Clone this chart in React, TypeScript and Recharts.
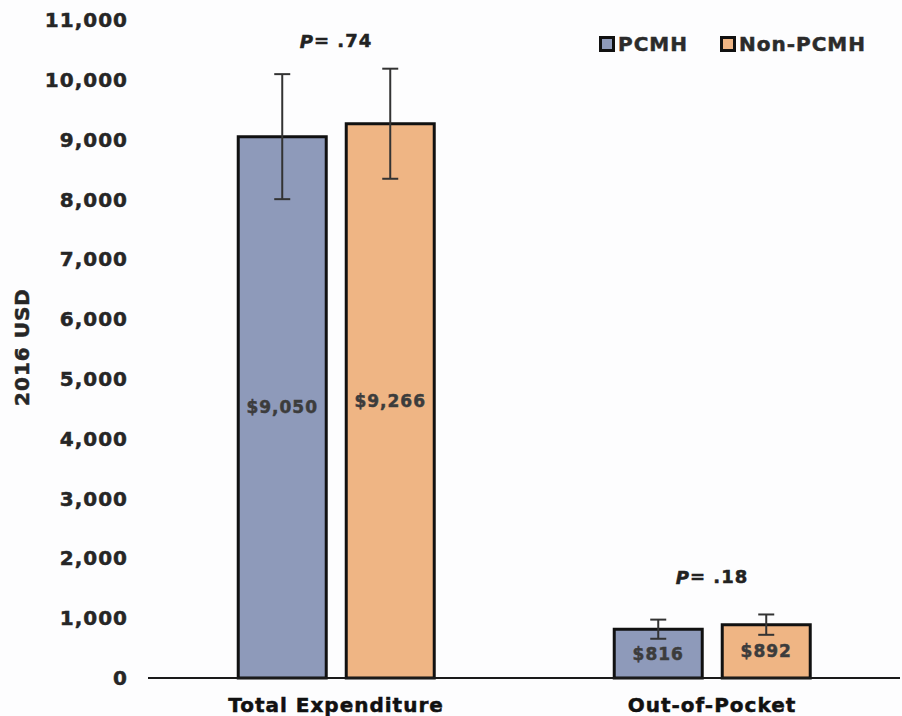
import React from "react";
import {
  BarChart,
  Bar,
  XAxis,
  YAxis,
  ErrorBar,
  LabelList,
  ReferenceDot,
} from "recharts";

const categories = ["Total Expenditure", "Out-of-Pocket"];
const pcmhValues = [9050, 816];
const nonPcmhValues = [9266, 892];
const pcmhErrors = [1045, 160];
const nonPcmhErrors = [920, 170];
const pValues = [".74", ".18"];
const pLabelY = [10650, 1690];
const yTicks = [0, 1000, 2000, 3000, 4000, 5000, 6000, 7000, 8000, 9000, 10000, 11000];

const PCMH_COLOR = "#8e9aba";
const NON_COLOR = "#efb584";
const FONT = "'DejaVu Sans', Verdana, sans-serif";

const data = categories.map((name, i) => ({
  name,
  pcmh: pcmhValues[i],
  nonPcmh: nonPcmhValues[i],
  pcmhErr: pcmhErrors[i],
  nonPcmhErr: nonPcmhErrors[i],
}));

const money = (v: any) => "$" + Number(v).toLocaleString("en-US");

const legendItems = [
  { label: "PCMH", color: PCMH_COLOR },
  { label: "Non-PCMH", color: NON_COLOR },
];

// heavier text, closer to the bold look of the original
const heavy = (fill: string) => ({ stroke: fill, strokeWidth: 0.5 });

function ChartLegend() {
  return (
    <div
      style={{
        position: "absolute",
        top: 32,
        right: 36,
        display: "flex",
        gap: 32,
        fontFamily: FONT,
      }}
    >
      {legendItems.map((it) => (
        <div key={it.label} style={{ display: "flex", alignItems: "center", gap: 3 }}>
          <span
            style={{
              display: "inline-block",
              width: 10,
              height: 10,
              background: it.color,
              border: "3px solid #111",
            }}
          />
          <span
            style={{
              fontSize: 20,
              fontWeight: 700,
              color: "#2b2b2b",
              letterSpacing: 1,
              WebkitTextStroke: "0.5px #2b2b2b",
            }}
          >
            {it.label}
          </span>
        </div>
      ))}
    </div>
  );
}

const PLabel = (props: any) => {
  const { viewBox, value } = props;
  const cx = viewBox.x + (viewBox.width || 0) / 2;
  const cy = viewBox.y + (viewBox.height || 0) / 2;
  return (
    <text
      x={cx}
      y={cy}
      textAnchor="middle"
      dominantBaseline="central"
      fontFamily={FONT}
      fontWeight={700}
      fontSize={18}
      letterSpacing={1}
      fill="#222"
      stroke="#222"
      strokeWidth={0.5}
    >
      <tspan fontStyle="italic">P</tspan>
      {"= " + value}
    </text>
  );
};

export default function App() {
  return (
    <div style={{ position: "absolute", left: 0, top: 0, width: 902, height: 716, background: "#fdfdfe" }}>
      <BarChart
        width={902}
        height={716}
        data={data}
        margin={{ top: 20, right: 2, bottom: 0, left: 0 }}
        barGap={20}
        barCategoryGap="24%"
      >
        <XAxis
          dataKey="name"
          height={38}
          axisLine={{ stroke: "#1a1a1a", strokeWidth: 2 }}
          tickLine={false}
          tickMargin={14}
          tick={{ fill: "#111", fontSize: 20, fontWeight: 700, fontFamily: FONT, letterSpacing: 1, ...heavy("#111") }}
        />
        <YAxis
          width={148}
          domain={[0, 11000]}
          ticks={yTicks}
          interval={0}
          axisLine={false}
          tickLine={false}
          tickMargin={14}
          tickFormatter={(v: number) => v.toLocaleString("en-US")}
          tick={{ fill: "#262626", fontSize: 20, fontWeight: 700, fontFamily: FONT, letterSpacing: 1, ...heavy("#262626") }}
          label={{
            value: "2016 USD",
            angle: -90,
            position: "insideLeft",
            offset: 22,
            dy: -2,
            style: {
              fill: "#262626",
              fontSize: 20,
              fontWeight: 700,
              fontFamily: FONT,
              letterSpacing: 1,
              textAnchor: "middle",
              ...heavy("#262626"),
            },
          }}
        />
        <Bar dataKey="pcmh" fill={PCMH_COLOR} stroke="#111" strokeWidth={3} isAnimationActive={false}>
          <ErrorBar dataKey="pcmhErr" width={8} strokeWidth={2} stroke="#333" direction="y" />
          <LabelList
            dataKey="pcmh"
            position="center"
            formatter={money}
            style={{ fill: "#3c3c3c", fontSize: 17, fontWeight: 700, fontFamily: FONT, letterSpacing: 1, ...heavy("#3c3c3c") }}
          />
        </Bar>
        <Bar dataKey="nonPcmh" fill={NON_COLOR} stroke="#111" strokeWidth={3} isAnimationActive={false}>
          <ErrorBar dataKey="nonPcmhErr" width={8} strokeWidth={2} stroke="#333" direction="y" />
          <LabelList
            dataKey="nonPcmh"
            position="center"
            formatter={money}
            style={{ fill: "#3c3c3c", fontSize: 17, fontWeight: 700, fontFamily: FONT, letterSpacing: 1, ...heavy("#3c3c3c") }}
          />
        </Bar>
        {categories.map((c, i) => (
          <ReferenceDot
            key={c}
            x={c}
            y={pLabelY[i]}
            r={0}
            fill="none"
            stroke="none"
            label={<PLabel value={pValues[i]} />}
          />
        ))}
      </BarChart>
      <ChartLegend />
    </div>
  );
}
